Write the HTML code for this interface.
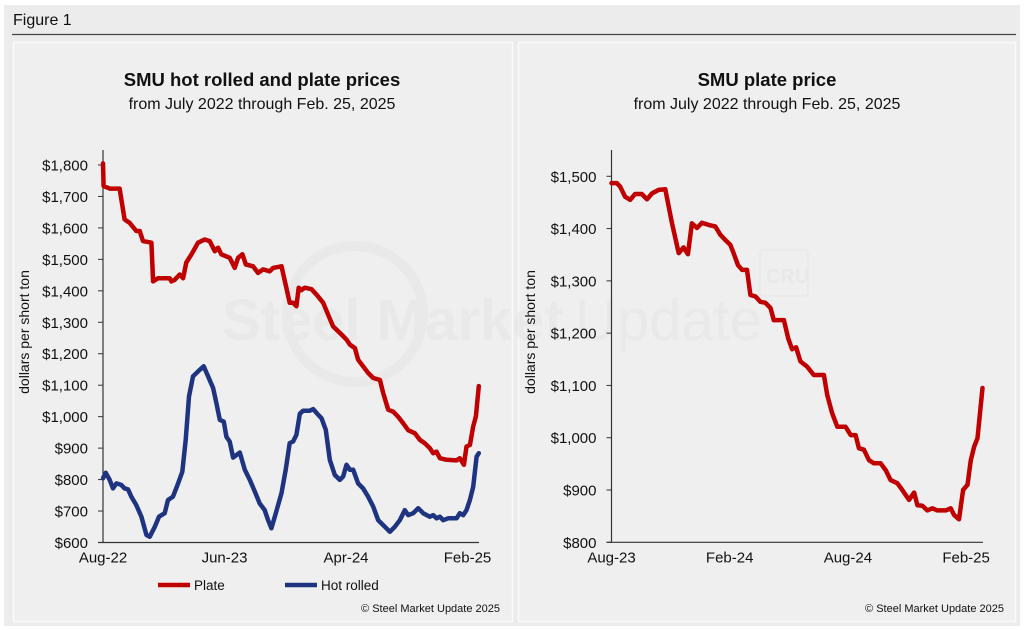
<!DOCTYPE html>
<html><head><meta charset="utf-8"><style>
html,body{margin:0;padding:0;background:#fff;}
svg{display:block;font-family:"Liberation Sans",Arial,sans-serif;}
</style></head><body>
<svg id="fig" width="1024" height="630" viewBox="0 0 1024 630">
<rect x="4" y="5" width="1016" height="621" fill="#ececec"/>
<text x="13" y="25" font-size="16" fill="#111">Figure 1</text>
<line x1="12" y1="34.5" x2="1016" y2="34.5" stroke="#444" stroke-width="1.2"/>
<rect x="13.5" y="42.5" width="499" height="579" fill="#efefef" stroke="#fafafa" stroke-width="1.5"/>
<rect x="518.5" y="42.5" width="497" height="579" fill="#efefef" stroke="#fafafa" stroke-width="1.5"/>
<g opacity="0.45">
<circle cx="355" cy="314" r="68" fill="none" stroke="#e2e2e2" stroke-width="10"/>
<text x="222" y="340" font-size="58" font-weight="bold" fill="#e2e2e2">Steel Market</text>
<text x="575" y="340" font-size="58" fill="#e2e2e2">Update</text>
<rect x="760" y="250" width="48" height="46" rx="3" fill="none" stroke="#e2e2e2" stroke-width="1.5"/>
<text x="766" y="283" font-size="20" font-weight="bold" fill="#e0e0e0">CRU</text>
</g>
<text x="262" y="86" text-anchor="middle" font-size="18.5" font-weight="bold" fill="#111">SMU hot rolled and plate prices</text>
<text x="262" y="109" text-anchor="middle" font-size="16" fill="#111">from July 2022 through Feb. 25, 2025</text>
<text x="767" y="86" text-anchor="middle" font-size="18.5" font-weight="bold" fill="#111">SMU plate price</text>
<text x="767" y="109" text-anchor="middle" font-size="16" fill="#111">from July 2022 through Feb. 25, 2025</text>
<text transform="translate(29,332) rotate(-90)" text-anchor="middle" font-size="14" fill="#111">dollars per short ton</text>
<text transform="translate(535,332) rotate(-90)" text-anchor="middle" font-size="14" fill="#111">dollars per short ton</text>
<g>
<line x1="158" y1="585" x2="190" y2="585" stroke="#c00000" stroke-width="4.5"/>
<text x="194" y="590" font-size="13.5" fill="#111">Plate</text>
<line x1="285" y1="585" x2="317" y2="585" stroke="#1f3480" stroke-width="4.5"/>
<text x="321" y="590" font-size="13.5" fill="#111">Hot rolled</text>
</g>
<text x="500" y="612" text-anchor="end" font-size="11" fill="#111">© Steel Market Update 2025</text>
<text x="1004" y="612" text-anchor="end" font-size="11" fill="#111">© Steel Market Update 2025</text>
<g id="left"></g>
<g id="right"></g>
</svg>
<script>
// Left chart data: time in months since Aug-22
const leftTickLabels = ["$600","$700","$800","$900","$1,000","$1,100","$1,200","$1,300","$1,400","$1,500","$1,600","$1,700","$1,800"];
const leftTickValues = [600,700,800,900,1000,1100,1200,1300,1400,1500,1600,1700,1800];
const leftXLabels = ["Aug-22","Jun-23","Apr-24","Feb-25"];
const leftXMonths = [0,10,20,30];
const plateT = [0,0.05,0.55,1.37,1.78,2.20,2.74,3.02,3.29,3.98,4.12,4.53,5.49,5.63,5.90,6.31,6.59,6.86,7.28,7.82,8.37,8.78,9.20,9.47,9.74,10.43,10.84,11.12,11.47,11.75,12.35,12.76,13.18,13.72,14.00,14.69,15.37,15.65,15.92,16.11,16.33,16.61,17.16,17.57,18.12,18.53,18.94,19.63,20.04,20.32,20.73,21.00,21.41,21.82,22.24,22.79,23.06,23.47,23.88,24.29,24.71,25.12,25.67,26.08,26.49,26.90,27.18,27.45,27.73,28.27,29.10,29.37,29.70,29.92,30.20,30.47,30.69,30.93];
const plateV = [1805,1733,1725,1725,1627,1616,1590,1590,1558,1553,1430,1440,1440,1430,1435,1452,1440,1490,1516,1553,1563,1558,1526,1537,1516,1505,1473,1505,1516,1484,1478,1457,1468,1462,1473,1478,1362,1362,1351,1410,1402,1410,1405,1388,1362,1324,1287,1261,1245,1229,1218,1181,1160,1139,1123,1117,1075,1022,1016,1000,979,957,947,926,915,900,884,889,868,863,861,868,847,905,910,969,1001,1097];
const hrcT = [0,0.22,0.55,0.82,1.10,1.51,1.78,2.06,2.33,2.74,3.16,3.57,3.84,4.26,4.61,5.08,5.35,5.76,6.18,6.53,6.81,7.08,7.41,7.96,8.29,8.65,9.06,9.33,9.61,9.94,10.16,10.43,10.71,11.26,11.67,12.08,12.49,12.90,13.31,13.59,13.86,14.22,14.69,15.04,15.37,15.65,15.92,16.20,16.47,17.02,17.30,17.71,17.98,18.34,18.67,19.08,19.49,19.77,20.04,20.32,20.59,21.00,21.41,21.82,22.24,22.65,23.20,23.61,24.02,24.43,24.84,25.12,25.53,25.94,26.35,26.90,27.18,27.45,27.73,28.00,28.41,29.10,29.37,29.65,29.92,30.20,30.47,30.75,30.93];
const hrcV = [804,822,799,772,788,783,772,769,746,719,682,624,618,650,682,693,735,746,788,825,926,1064,1128,1149,1160,1128,1091,1043,990,984,936,921,870,886,831,799,762,724,703,671,645,693,757,831,916,921,942,1009,1019,1019,1024,1006,995,958,863,815,799,810,847,831,831,788,772,746,714,671,650,634,650,671,703,687,693,709,693,682,687,677,682,671,677,677,693,687,703,735,777,873,884];
// Right chart data: time in months since Aug-23
const rightTickLabels = ["$800","$900","$1,000","$1,100","$1,200","$1,300","$1,400","$1,500"];
const rightTickValues = [800,900,1000,1100,1200,1300,1400,1500];
const rightXLabels = ["Aug-23","Feb-24","Aug-24","Feb-25"];
const rightXMonths = [0,6,12,18];
const plate2T = [0,0.27,0.44,0.69,0.95,1.20,1.54,1.80,2.05,2.39,2.73,3.07,3.41,3.66,3.88,4.08,4.34,4.59,4.93,5.27,5.53,5.78,6.03,6.20,6.42,6.63,6.88,7.05,7.31,7.56,7.81,8.07,8.24,8.75,8.97,9.17,9.37,9.59,9.93,10.27,10.78,10.95,11.20,11.46,11.88,12.14,12.39,12.56,12.81,13.07,13.32,13.66,13.92,14.17,14.51,14.76,15.10,15.36,15.53,15.78,16.03,16.29,16.54,16.97,17.22,17.39,17.64,17.85,18.07,18.24,18.41,18.58,18.83];
const plate2V = [1487,1487,1480,1461,1455,1466,1466,1456,1467,1474,1475,1410,1353,1364,1351,1410,1401,1411,1407,1404,1388,1378,1369,1353,1330,1321,1321,1273,1270,1260,1258,1248,1225,1225,1190,1169,1173,1146,1136,1120,1120,1082,1047,1021,1021,1005,1005,980,977,957,951,951,938,919,913,900,881,895,871,870,861,865,861,861,865,852,844,900,910,957,983,999,1095];

const NS = "http://www.w3.org/2000/svg";
function mk(parent, tag, attrs){const e=document.createElementNS(NS,tag);for(const k in attrs)e.setAttribute(k,attrs[k]);parent.appendChild(e);return e;}

function drawChart(g, opt){
  const xS = m => opt.x0 + (m - opt.m0) * opt.pxPerMonth;
  const yS = v => opt.yBase - (v - opt.vMin) * opt.pxPerUnit;
  const ax = mk(g,"line",{x1:opt.x0,y1:opt.top,x2:opt.x0,y2:opt.yBase,stroke:"#333","stroke-width":1.2});
  
  
  const bx = mk(g,"line",{x1:opt.x0-5,y1:opt.yBase,x2:opt.xEnd,y2:opt.yBase,stroke:"#333","stroke-width":1.2});
  
  
  opt.tickV.forEach((v,i)=>{
    const y=yS(v);
    const t=mk(g,"line",{x1:opt.x0-5,y1:y,x2:opt.x0,y2:y,stroke:"#333","stroke-width":1});
    
    
    const l=mk(g,"text",{x:opt.x0-15,y:y+5.5,"text-anchor":"end","font-size":15,fill:"#111"});
    l.textContent=opt.tickL[i];
    
    
  });
  opt.xM.forEach((m,i)=>{
    const l=mk(g,"text",{x:xS(m),y:opt.yBase+20,"text-anchor":"middle","font-size":15,fill:"#111"});
    l.textContent=opt.xL[i];
    
    
  });
  opt.series.forEach(s=>{
    const d=s.t.map((m,i)=>(i?"L":"M")+xS(m).toFixed(1)+","+yS(s.v[i]).toFixed(1)).join("");
    const p=mk(g,"path",{d:d,fill:"none",stroke:s.color,"stroke-width":4.5,"stroke-linejoin":"round","stroke-linecap":"round"});
    
    
  });
}
drawChart(document.getElementById("left"),{
  prefix:"left",x0:103,xEnd:479,top:150,yBase:542.5,vMin:600,pxPerUnit:0.3146,m0:0,pxPerMonth:12.15,
  tickV:leftTickValues,tickL:leftTickLabels,xM:leftXMonths,xL:leftXLabels,
  series:[{t:hrcT,v:hrcV,color:"#1f3480",name:"hot-rolled-line"},{t:plateT,v:plateV,color:"#c00000",name:"plate-line-left"}]
});
drawChart(document.getElementById("right"),{
  prefix:"right",x0:611.5,xEnd:983,top:150,yBase:542.3,vMin:800,pxPerUnit:0.5229,m0:0,pxPerMonth:19.7,
  tickV:rightTickValues,tickL:rightTickLabels,xM:rightXMonths,xL:rightXLabels,
  series:[{t:plate2T,v:plate2V,color:"#c00000",name:"plate-line-right"}]
});
</script>
</body></html>
